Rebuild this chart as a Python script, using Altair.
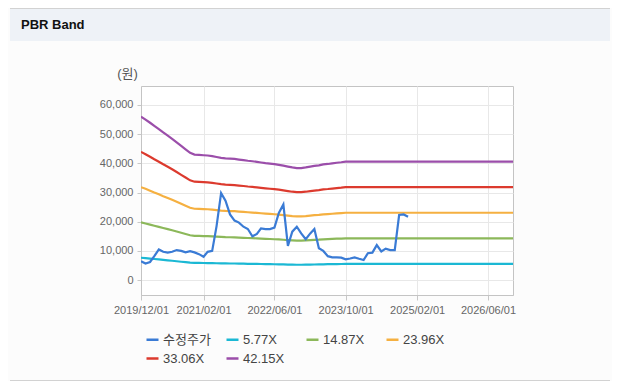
import altair as alt
import pandas as pd

# ---- data ----
series_names = ["수정주가", "5.77X", "14.87X", "23.96X", "33.06X", "42.15X"]
colors = ["#3a7bd5", "#1bb8d4", "#8cb85a", "#f5b041", "#dc3a2e", "#9b4eaa"]
multiples = [5.77, 14.87, 23.96, 33.06, 42.15]

# monthly adjusted close (원), 2019-12 .. 2024-12
price = [6500, 5700, 6200, 8200, 10500, 9700, 9400, 9700, 10300, 10000, 9500, 9900,
         9500, 8900, 8000, 9700, 10000, 18500, 29800, 27200, 22500, 20400, 19700, 18300,
         17500, 15000, 15800, 17700, 17500, 17500, 18000, 23000, 25900, 11700, 16600, 18300,
         16000, 14000, 16000, 17500, 10900, 10000, 8200, 7800, 7800, 7700, 7100, 7400,
         7800, 7300, 6900, 9200, 9400, 12000, 9800, 10800, 10300, 10300, 22300, 22500,
         21700]

# monthly book value per share (원), 2019-12 .. 2023-10, then held flat to the end
bps = [1329, 1305, 1279, 1253, 1227, 1200, 1174, 1148, 1120, 1091, 1063, 1034,
       1020, 1018, 1015, 1013, 1008, 1001, 994, 989, 987, 985, 980, 975,
       970, 966, 961, 956, 951, 947, 942, 937, 930, 923, 916, 911,
       911, 916, 923, 928, 932, 940, 944, 949, 954, 958, 963]
bps_end_date = "2026-12-01"

x_ticks = ["2019-12-01", "2021-02-01", "2022-06-01", "2023-10-01", "2025-02-01", "2026-06-01"]
y_ticks = [0, 10000, 20000, 30000, 40000, 50000, 60000]

# ---- build a long table ----
price_dates = pd.date_range("2019-12-01", periods=len(price), freq="MS")
bps_dates = list(pd.date_range("2019-12-01", periods=len(bps), freq="MS")) + [pd.Timestamp(bps_end_date)]
bps_all = bps + [bps[-1]]

rows = []
for d, v in zip(price_dates, price):
    rows.append({"date": d, "value": v, "series": series_names[0]})
for name, m in zip(series_names[1:], multiples):
    for d, b in zip(bps_dates, bps_all):
        rows.append({"date": d, "value": round(m * b), "series": name})
df = pd.DataFrame(rows)

FONT = "Liberation Sans, Noto Sans CJK KR"

def dt(s):
    y, mo, d = (int(p) for p in s.split("-"))
    return alt.DateTime(year=y, month=mo, date=d)

x_enc = alt.X(
    "date:T",
    scale=alt.Scale(domain=[dt("2019-12-01"), dt("2026-11-19")]),
    axis=alt.Axis(
        values=[dt(s) for s in x_ticks],
        format="%Y/%m/%d",
        title=None,
        labelFontSize=11,
        labelColor="#666666",
        labelFont=FONT,
        tickSize=5,
        labelPadding=4,
        labelFlush=False,
        labelOverlap=False,
    ),
)
y_enc = alt.Y(
    "value:Q",
    scale=alt.Scale(domain=[-5100, 66500], nice=False, zero=False),
    axis=alt.Axis(
        values=y_ticks,
        format=",d",
        title="(원)",
        titleAngle=0,
        titleX=-14,
        titleY=-13,
        titleAlign="center",
        titleBaseline="middle",
        titleFontSize=13,
        titleFontWeight="normal",
        titleColor="#555555",
        titleFont=FONT,
        labelFontSize=11,
        labelColor="#666666",
        labelFont=FONT,
        tickSize=4,
        labelPadding=4,
    ),
)
color_enc = alt.Color(
    "series:N",
    scale=alt.Scale(domain=series_names, range=colors),
    sort=series_names,
    legend=alt.Legend(
        title=None,
        orient="none",
        legendX=4,
        legendY=246,
        direction="horizontal",
        columns=4,
        gridAlign="all",
        columnPadding=10,
        rowPadding=4,
        symbolType="stroke",
        symbolSize=144,
        symbolStrokeWidth=2.5,
        labelFontSize=13,
        labelColor="#444444",
        labelFont=FONT,
        labelOffset=3,
    ),
)

base = alt.Chart(df).encode(x=x_enc, y=y_enc, color=color_enc)
bands = base.transform_filter(alt.datum.series != series_names[0]).mark_line(strokeWidth=2.2, clip=True)
price_line = base.transform_filter(alt.datum.series == series_names[0]).mark_line(strokeWidth=2.2, clip=True)

dummy = pd.DataFrame({"k": [0]})
band_rect = alt.Chart(dummy).mark_rect(color="#eef2f7").encode(
    x=alt.value(-131), x2=alt.value(469), y=alt.value(-77), y2=alt.value(-45)
)
top_rule = alt.Chart(dummy).mark_rule(color="#d2d2d2", strokeWidth=1).encode(
    x=alt.value(-131), x2=alt.value(469), y=alt.value(-77.5)
)
bottom_rule = alt.Chart(dummy).mark_rule(color="#d2d2d2", strokeWidth=1).encode(
    x=alt.value(-131), x2=alt.value(469), y=alt.value(294.5)
)
title_text = alt.Chart(dummy).mark_text(
    text="PBR Band", align="left", baseline="middle", fontWeight="bold",
    fontSize=13, font=FONT, color="#111111"
).encode(x=alt.value(-120), y=alt.value(-61))

chart = alt.layer(
    band_rect, top_rule, bottom_rule, title_text, bands, price_line
).properties(
    width=372,
    height=209,
    autosize=alt.AutoSizeParams(type="none"),
    padding={"left": 133, "top": 78, "right": 99, "bottom": 86},
    background="#fcfcfc",
).configure_view(
    stroke="#c4c4c4", fill="#ffffff"
).configure_axis(
    gridColor="#e8e8e8", domainColor="#c4c4c4", tickColor="#c8c8c8"
)

chart.save("out.html", embed_options={"renderer": "svg", "actions": False})
